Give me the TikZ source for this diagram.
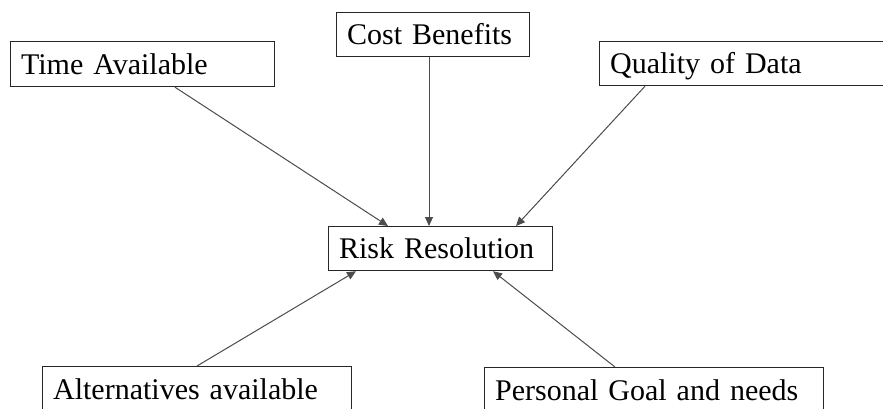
\documentclass[tikz,border=0pt]{standalone}
\usepackage{fontspec}
\setmainfont{Liberation Serif}
\usetikzlibrary{arrows.meta,calc}

\tikzset{
  factor/.style={draw=black!85, line width=1.2pt, rectangle, anchor=north west,
    inner xsep=10.5pt, inner ysep=0pt, align=left, text height=20.5pt, text depth=0pt,
    font=\fontsize{30}{34}\selectfont},
  influence/.style={draw=black!70, line width=1pt,
    -{Triangle[length=9pt,width=8pt]}}
}

\begin{document}
\begin{tikzpicture}[x=1pt,y=-1pt]
  \clip (0,0) rectangle (883,408);
  \fill[white] (0,0) rectangle (883,408);

  % surrounding factors
  \node[factor, minimum width=264pt, minimum height=45pt, text width=243pt]
    (time) at (10,41) {Time Available};
  \node[factor, minimum width=193pt, minimum height=44.5pt, text width=172pt]
    (cost) at (336,11.5) {Cost Benefits};
  \node[factor, minimum width=300pt, minimum height=44pt, text width=279pt]
    (quality) at (599,41) {Quality of Data};
  \node[factor, minimum width=309pt, minimum height=45pt, text width=288pt]
    (alt) at (42,366) {Alternatives available};
  \node[factor, minimum width=339pt, minimum height=45pt, text width=318pt]
    (goal) at (484,367) {Personal Goal and needs};

  % central node
  \node[factor, minimum width=224pt, minimum height=44pt, text width=203pt]
    (risk) at (328,226) {Risk Resolution};

  % influences on risk resolution
  \draw[influence] ($(time.south west)+(165,0)$) -- ($(risk.north west)+(60,0)$);
  \draw[influence] ($(cost.south west)+(93,0)$) -- ($(risk.north west)+(101,0)$);
  \draw[influence] ($(quality.south west)+(46,0)$) -- ($(risk.north west)+(188,0)$);
  \draw[influence] ($(alt.north west)+(155,0)$) -- ($(risk.south west)+(28,0)$);
  \draw[influence] ($(goal.north west)+(131,0)$) -- ($(risk.south west)+(165,0)$);
\end{tikzpicture}
\end{document}
